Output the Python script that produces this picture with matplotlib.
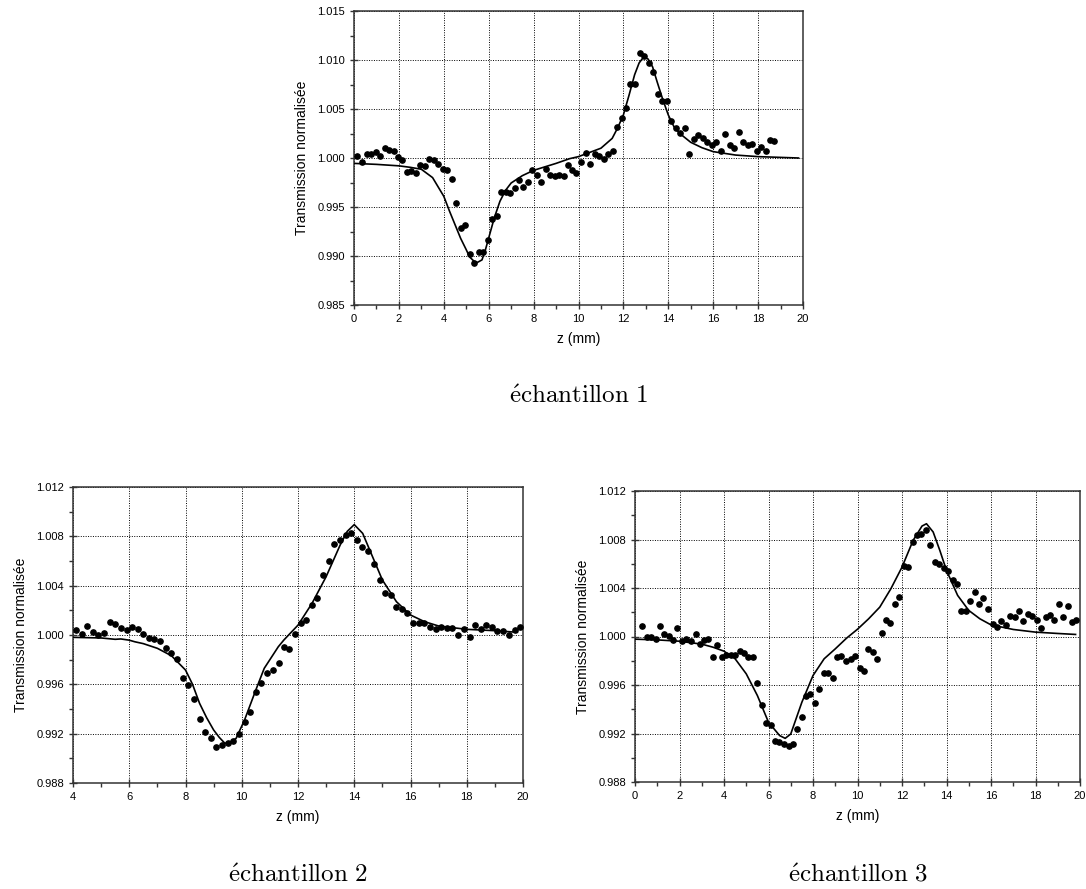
import numpy as np
import matplotlib
matplotlib.use("Agg")
import matplotlib.pyplot as plt
from matplotlib.ticker import MultipleLocator, FormatStrFormatter

plt.rcParams["font.family"] = ["Liberation Sans", "DejaVu Sans"]

# ---- échantillon 1 : mesures + ajustement
z1 = [0.15, 0.36, 0.57, 0.76, 0.97, 1.16, 1.37, 1.56, 1.76, 1.96, 2.16, 2.35,
      2.56, 2.75, 2.96, 3.15, 3.36, 3.56, 3.75, 3.96, 4.15, 4.36, 4.55, 4.75,
      4.96, 5.15, 5.36, 5.55, 5.76, 5.95, 6.15, 6.35, 6.55, 6.76, 6.95, 7.16,
      7.35, 7.54, 7.75, 7.95, 8.15, 8.35, 8.56, 8.75, 8.94, 9.15, 9.35, 9.55,
      9.72, 9.91, 10.12, 10.33, 10.52, 10.73, 10.93, 11.12, 11.33, 11.52, 11.72,
      11.93, 12.12, 12.31, 12.52, 12.72, 12.93, 13.12, 13.33, 13.52, 13.73,
      13.93, 14.13, 14.33, 14.54, 14.73, 14.94, 15.13, 15.33, 15.54, 15.73,
      15.94, 16.13, 16.34, 16.54, 16.73, 16.94, 17.13, 17.33, 17.54, 17.73,
      17.94, 18.13, 18.33, 18.54, 18.73]
t1 = [1.00024, 0.99959, 1.00044, 1.00041, 1.00061, 1.00024, 1.00102, 1.00082,
      1.00075, 1.00014, 0.99976, 0.99861, 0.99864, 0.99850, 0.99929, 0.99922,
      0.99993, 0.99976, 0.99939, 0.99891, 0.99874, 0.99782, 0.99544, 0.99289,
      0.99316, 0.99020, 0.98925, 0.99041, 0.99044, 0.99163, 0.99378, 0.99412,
      0.99650, 0.99650, 0.99640, 0.99697, 0.99772, 0.99704, 0.99755, 0.99874,
      0.99827, 0.99759, 0.99884, 0.99830, 0.99813, 0.99830, 0.99820, 0.99932,
      0.99878, 0.99847, 0.99956, 1.00054, 0.99939, 1.00037, 1.00017, 0.99993,
      1.00037, 1.00070, 1.00320, 1.00412, 1.00507, 1.00755, 1.00752, 1.01071,
      1.01044, 1.00966, 1.00878, 1.00656, 1.00578, 1.00578, 1.00374, 1.00306,
      1.00255, 1.00306, 1.00044, 1.00197, 1.00235, 1.00204, 1.00160, 1.00129,
      1.00167, 1.00075, 1.00240, 1.00136, 1.00102, 1.00265, 1.00167, 1.00136,
      1.00140, 1.00070, 1.00110, 1.00070, 1.00180, 1.00170]
zf1 = [0.0, 1.0, 2.0, 2.5, 3.0, 3.5, 4.0, 4.25, 4.5, 4.75, 5.0, 5.15, 5.35,
       5.5, 5.7, 5.85, 6.0, 6.25, 6.5, 6.75, 7.0, 7.5, 8.0, 9.0, 9.6, 10.0,
       11.0, 11.5, 11.75, 12.0, 12.25, 12.5, 12.7, 12.9, 13.1, 13.3, 13.5,
       13.75, 14.0, 14.25, 14.5, 15.0, 15.5, 16.0, 17.0, 18.0, 19.8]
tf1 = [0.99945, 0.99935, 0.99920, 0.99905, 0.99885, 0.99800, 0.99609, 0.99460,
       0.99320, 0.99180, 0.99064, 0.98990, 0.98946, 0.98935, 0.98960, 0.99060,
       0.99184, 0.99390, 0.99558, 0.99670, 0.99745, 0.99820, 0.99874, 0.99945,
       0.99993, 1.00014, 1.00100, 1.00200, 1.00310, 1.00440, 1.00640, 1.00850,
       1.00970, 1.01030, 1.01010, 1.00930, 1.00779, 1.00600, 1.00439, 1.00320,
       1.00252, 1.00160, 1.00105, 1.00065, 1.00030, 1.00014, 1.00000]

# ---- échantillon 2
z2 = [4.09, 4.31, 4.51, 4.71, 4.90, 5.10, 5.30, 5.51, 5.70, 5.91, 6.10, 6.30,
      6.50, 6.70, 6.89, 7.10, 7.30, 7.50, 7.70, 7.90, 8.09, 8.29, 8.50, 8.70,
      8.90, 9.10, 9.30, 9.50, 9.70, 9.90, 10.10, 10.30, 10.50, 10.70, 10.90,
      11.10, 11.31, 11.49, 11.69, 11.89, 12.09, 12.30, 12.49, 12.69, 12.89,
      13.09, 13.29, 13.49, 13.70, 13.90, 14.09, 14.29, 14.49, 14.69, 14.90,
      15.10, 15.30, 15.49, 15.69, 15.89, 16.09, 16.29, 16.49, 16.70, 16.90,
      17.10, 17.29, 17.49, 17.69, 17.90, 18.10, 18.30, 18.50, 18.70, 18.89,
      19.09, 19.30, 19.50, 19.70, 19.90]
t2 = [1.00041, 1.00011, 1.00076, 1.00027, 1.00000, 1.00019, 1.00103, 1.00086,
      1.00054, 1.00043, 1.00068, 1.00051, 1.00005, 0.99978, 0.99970, 0.99951,
      0.99897, 0.99851, 0.99805, 0.99654, 0.99595, 0.99478, 0.99322, 0.99214,
      0.99168, 0.99089, 0.99108, 0.99127, 0.99143, 0.99200, 0.99295, 0.99376,
      0.99535, 0.99614, 0.99692, 0.99719, 0.99773, 0.99905, 0.99886, 1.00008,
      1.00100, 1.00119, 1.00246, 1.00303, 1.00489, 1.00603, 1.00735, 1.00770,
      1.00814, 1.00830, 1.00770, 1.00711, 1.00684, 1.00578, 1.00446, 1.00341,
      1.00327, 1.00227, 1.00208, 1.00178, 1.00095, 1.00095, 1.00097, 1.00068,
      1.00046, 1.00065, 1.00059, 1.00057, 1.00000, 1.00046, 0.99984, 1.00078,
      1.00051, 1.00084, 1.00068, 1.00032, 1.00032, 1.00003, 1.00043, 1.00068]
zf2 = [4.0, 5.0, 5.5, 5.7, 6.0, 6.2, 6.5, 7.0, 7.5, 8.0, 8.25, 8.5, 8.75, 9.0,
       9.2, 9.4, 9.6, 9.8, 10.1, 10.5, 10.8, 11.0, 11.3, 11.5, 12.0, 12.5,
       13.0, 13.5, 13.75, 14.0, 14.3, 14.6, 15.0, 15.5, 16.0, 16.5, 17.0,
       18.0, 19.0, 19.8]
tf2 = [0.99981, 0.99976, 0.99965, 0.99968, 0.99958, 0.99945, 0.99930, 0.99892,
       0.99832, 0.99716, 0.99600, 0.99446, 0.99330, 0.99230, 0.99170, 0.99122,
       0.99130, 0.99162, 0.99311, 0.99554, 0.99730, 0.99800, 0.99905, 0.99960,
       1.00080, 1.00257, 1.00473, 1.00730, 1.00840, 1.00895, 1.00824, 1.00662,
       1.00446, 1.00270, 1.00162, 1.00108, 1.00073, 1.00046, 1.00035, 1.00022]

# ---- échantillon 3
z3 = [0.33, 0.52, 0.72, 0.93, 1.12, 1.31, 1.52, 1.72, 1.91, 2.10, 2.31, 2.51,
      2.72, 2.91, 3.10, 3.30, 3.51, 3.70, 3.91, 4.10, 4.30, 4.51, 4.70, 4.90,
      5.10, 5.30, 5.49, 5.70, 5.90, 6.10, 6.30, 6.49, 6.70, 6.90, 7.10, 7.30,
      7.49, 7.69, 7.88, 8.09, 8.28, 8.48, 8.69, 8.88, 9.07, 9.28, 9.48, 9.70,
      9.90, 10.09, 10.28, 10.49, 10.69, 10.88, 11.09, 11.29, 11.48, 11.69,
      11.88, 12.08, 12.29, 12.48, 12.68, 12.87, 13.08, 13.27, 13.47, 13.68,
      13.87, 14.07, 14.27, 14.47, 14.66, 14.87, 15.07, 15.26, 15.47, 15.66,
      15.86, 16.07, 16.26, 16.46, 16.67, 16.86, 17.06, 17.26, 17.46, 17.65,
      17.85, 18.06, 18.25, 18.46, 18.66, 18.85, 19.06, 19.25, 19.45, 19.64,
      19.84]
t3 = [1.00088, 1.00000, 1.00000, 0.99978, 1.00088, 1.00019, 1.00003, 0.99972,
      1.00069, 0.99961, 0.99978, 0.99961, 1.00017, 0.99942, 0.99970, 0.99981,
      0.99827, 0.99931, 0.99835, 0.99846, 0.99849, 0.99849, 0.99879, 0.99860,
      0.99835, 0.99835, 0.99615, 0.99438, 0.99284, 0.99273, 0.99141, 0.99130,
      0.99111, 0.99097, 0.99114, 0.99240, 0.99334, 0.99513, 0.99529, 0.99455,
      0.99571, 0.99697, 0.99697, 0.99659, 0.99832, 0.99843, 0.99794, 0.99816,
      0.99840, 0.99738, 0.99719, 0.99895, 0.99876, 0.99816, 1.00030, 1.00132,
      1.00113, 1.00264, 1.00322, 1.00581, 1.00570, 1.00782, 1.00834, 1.00842,
      1.00881, 1.00757, 1.00614, 1.00595, 1.00564, 1.00537, 1.00462, 1.00432,
      1.00209, 1.00209, 1.00289, 1.00366, 1.00270, 1.00314, 1.00223, 1.00105,
      1.00080, 1.00127, 1.00096, 1.00165, 1.00160, 1.00212, 1.00129, 1.00184,
      1.00165, 1.00132, 1.00072, 1.00157, 1.00179, 1.00140, 1.00264, 1.00160,
      1.00250, 1.00118, 1.00135]
zf3 = [0.0, 1.0, 2.0, 3.0, 3.5, 4.0, 4.5, 5.0, 5.5, 6.0, 6.5, 6.75, 7.0, 7.5,
       8.0, 8.5, 9.0, 9.5, 10.0, 10.5, 11.0, 11.5, 12.0, 12.5, 12.9, 13.1,
       13.4, 13.7, 14.0, 14.5, 15.0, 15.5, 16.0, 17.0, 18.0, 19.0, 19.8]
tf3 = [0.99978, 0.99972, 0.99961, 0.99937, 0.99912, 0.99879, 0.99816, 0.99692,
       0.99513, 0.99293, 0.99183, 0.99160, 0.99196, 0.99458, 0.99678, 0.99816,
       0.99898, 0.99985, 1.00060, 1.00146, 1.00242, 1.00394, 1.00572, 1.00793,
       1.00911, 1.00930, 1.00862, 1.00710, 1.00545, 1.00339, 1.00215, 1.00146,
       1.00096, 1.00058, 1.00036, 1.00025, 1.00017]

W, H = 1086, 889
fig = plt.figure(figsize=(W / 100, H / 100), dpi=100)


def px_axes(x0, x1, y0, y1):
    return fig.add_axes([x0 / W, 1 - y1 / H, (x1 - x0) / W, (y1 - y0) / H])


def style(ax, xlim, xmaj, ylim, ymaj):
    ax.set_xlim(*xlim)
    ax.set_ylim(*ylim)
    ax.xaxis.set_major_locator(MultipleLocator(xmaj))
    ax.xaxis.set_minor_locator(MultipleLocator(xmaj / 2))
    ax.yaxis.set_major_locator(MultipleLocator(ymaj))
    ax.yaxis.set_minor_locator(MultipleLocator(ymaj / 2))
    ax.yaxis.set_major_formatter(FormatStrFormatter("%.3f"))
    ax.grid(True, which="major", color="black", ls=(0, (1, 1.5)), lw=0.7)
    ax.tick_params(which="major", direction="inout", length=6, width=1,
                   labelsize=8, color="#333333")
    ax.tick_params(which="minor", direction="out", length=3, width=1,
                   color="#333333")
    for s in ax.spines.values():
        s.set_linewidth(1.1)
        s.set_color("#333333")
    ax.set_xlabel("z (mm)", fontsize=10, labelpad=6)
    ax.set_ylabel("Transmission normalisée", fontsize=10, labelpad=6)


panels = [
    ((354, 803, 11, 305), (0, 20), 2, (0.985, 1.015), 0.005, z1, t1, zf1, tf1,
     "1", 403),
    ((73, 523, 487, 783), (4, 20), 2, (0.988, 1.012), 0.004, z2, t2, zf2, tf2,
     "2", 882),
    ((635, 1080, 491, 782), (0, 20), 2, (0.988, 1.012), 0.004, z3, t3, zf3,
     tf3, "3", 882),
]

for box, xl, xm, yl, ym, z, t, zf, tf, name, ycap in panels:
    ax = px_axes(*box)
    style(ax, xl, xm, yl, ym)
    ax.plot(zf, tf, color="black", lw=1.2, zorder=3)
    ax.plot(z, t, "o", color="black", ms=3.8, zorder=4)
    xc = (box[0] + box[1]) / 2 / W
    fig.text(xc, 1 - ycap / H, r"$\mathrm{\acute{e}chantillon\ " + name + "}$",
             ha="center", va="baseline", fontsize=18, math_fontfamily="cm")

fig.savefig("out.png", dpi=100)
